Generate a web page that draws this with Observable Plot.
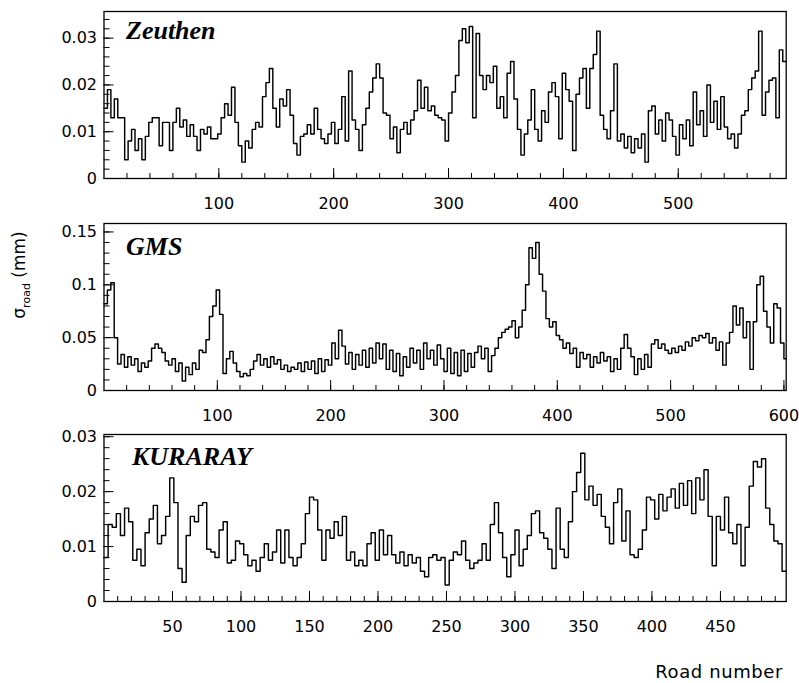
<!DOCTYPE html>
<html>
<head>
<meta charset="utf-8">
<script src="https://cdn.jsdelivr.net/npm/d3@7"></script>
<script src="https://cdn.jsdelivr.net/npm/@observablehq/plot@0.6"></script>
<style>
  html, body { margin: 0; padding: 0; background: #fff; }
  #wrap { position: relative; width: 799px; height: 683px; background: #fff; overflow: hidden; }
  .panel { position: absolute; left: 0; overflow: visible; }
  #ylab { position: absolute; left: 21px; top: 275px; transform: translate(-50%, -50%) rotate(-90deg);
          font-family: "DejaVu Sans", sans-serif; font-size: 17px; white-space: nowrap; color: #000; }
  #ylab sub { font-size: 11px; }
  #xlab { position: absolute; right: 16px; top: 661px; font-family: "DejaVu Sans", sans-serif;
          font-size: 18px; letter-spacing: 0.6px; color: #000; }
</style>
</head>
<body>
<div id="wrap">
  <div id="ylab">σ<sub>road</sub> (mm)</div>
  <div id="xlab">Road number</div>
</div>
<script>
// ---- data (σ_road in mm, one value per bin of 3 roads) ----
const roadsPerBin = 3;

const zeuthen = [
0.015,0.019,0.013,0.017,0.013,0.013,0.004,0.008,0.0105,0.006,
0.0085,0.004,0.009,0.012,0.013,0.013,0.007,0.012,0.012,0.006,
0.012,0.015,0.011,0.0125,0.009,0.0115,0.009,0.006,0.0105,0.0095,
0.011,0.0085,0.0085,0.0095,0.013,0.016,0.0135,0.0195,0.012,0.007,
0.0035,0.008,0.0065,0.0105,0.012,0.011,0.0175,0.0205,0.0235,0.015,
0.011,0.017,0.0155,0.019,0.0135,0.0075,0.005,0.009,0.0095,0.0115,
0.0095,0.015,0.0105,0.0085,0.0075,0.0095,0.012,0.0075,0.0105,0.0175,
0.008,0.023,0.0125,0.0105,0.006,0.0115,0.015,0.0185,0.0215,0.0245,
0.0215,0.014,0.0135,0.0085,0.011,0.0055,0.0105,0.012,0.0095,0.0125,
0.0145,0.021,0.015,0.0195,0.0145,0.0155,0.0135,0.013,0.0125,0.008,
0.014,0.0185,0.022,0.0295,0.032,0.029,0.0325,0.013,0.031,0.022,
0.019,0.022,0.0205,0.024,0.015,0.0175,0.013,0.0225,0.025,0.017,
0.0105,0.005,0.0095,0.0125,0.019,0.0105,0.008,0.0145,0.012,0.0185,
0.0205,0.0175,0.0085,0.0225,0.019,0.0165,0.006,0.018,0.0215,0.0235,
0.015,0.0235,0.0265,0.0315,0.0135,0.0105,0.0085,0.0145,0.0245,0.008,
0.0095,0.0065,0.009,0.0055,0.0085,0.0065,0.0095,0.0035,0.0145,0.0155,
0.0095,0.0125,0.008,0.014,0.0125,0.009,0.005,0.0115,0.0085,0.0125,
0.007,0.0185,0.0115,0.0145,0.009,0.02,0.012,0.0165,0.0105,0.0175,
0.011,0.0085,0.0095,0.0065,0.0095,0.0135,0.0145,0.019,0.0215,0.023,
0.0315,0.0135,0.0185,0.021,0.0215,0.013,0.0275,0.025
];

const gms = [
0.082,0.095,0.102,0.05,0.025,0.034,0.022,0.032,0.024,0.03,
0.018,0.026,0.022,0.028,0.04,0.044,0.04,0.036,0.028,0.024,
0.03,0.018,0.026,0.009,0.022,0.015,0.026,0.02,0.038,0.036,
0.048,0.07,0.08,0.095,0.072,0.016,0.03,0.037,0.026,0.018,
0.013,0.016,0.014,0.02,0.028,0.034,0.024,0.03,0.022,0.032,
0.025,0.029,0.02,0.024,0.018,0.022,0.02,0.026,0.018,0.027,
0.02,0.028,0.016,0.03,0.018,0.029,0.024,0.045,0.03,0.057,
0.042,0.025,0.036,0.02,0.034,0.024,0.038,0.022,0.04,0.026,
0.045,0.03,0.044,0.02,0.038,0.018,0.035,0.014,0.032,0.022,
0.04,0.026,0.038,0.02,0.045,0.03,0.038,0.024,0.043,0.03,
0.018,0.04,0.016,0.036,0.014,0.038,0.018,0.035,0.022,0.036,
0.042,0.03,0.04,0.018,0.033,0.04,0.05,0.055,0.058,0.06,
0.066,0.05,0.06,0.076,0.1,0.135,0.125,0.14,0.11,0.094,
0.068,0.06,0.065,0.052,0.048,0.04,0.045,0.035,0.04,0.022,
0.036,0.03,0.034,0.022,0.032,0.026,0.036,0.028,0.032,0.018,
0.03,0.02,0.04,0.053,0.04,0.032,0.015,0.03,0.02,0.034,
0.022,0.044,0.048,0.04,0.044,0.038,0.035,0.04,0.036,0.042,
0.038,0.046,0.042,0.05,0.047,0.052,0.05,0.054,0.045,0.05,
0.038,0.046,0.024,0.045,0.055,0.08,0.062,0.078,0.05,0.065,
0.02,0.065,0.1,0.108,0.075,0.06,0.045,0.082,0.078,0.045,0.03
];

const kuraray = [
0.008,0.014,0.0135,0.016,0.012,0.017,0.0145,0.0075,0.0095,0.0065,
0.0125,0.015,0.0175,0.0105,0.012,0.0155,0.0225,0.018,0.006,0.0035,
0.012,0.0155,0.0145,0.0175,0.018,0.0095,0.009,0.008,0.013,0.0145,
0.007,0.0075,0.011,0.0105,0.0085,0.0065,0.0075,0.0055,0.008,0.0105,
0.0075,0.009,0.013,0.007,0.013,0.008,0.0065,0.008,0.0105,0.016,
0.019,0.0185,0.013,0.0075,0.013,0.0115,0.0145,0.012,0.0155,0.0075,
0.009,0.0065,0.0075,0.0065,0.0105,0.0125,0.0075,0.013,0.0085,0.012,
0.0085,0.007,0.009,0.0065,0.0085,0.007,0.008,0.0055,0.0045,0.008,
0.0085,0.0075,0.008,0.003,0.0075,0.009,0.0085,0.011,0.0075,0.006,
0.007,0.0075,0.0105,0.0075,0.014,0.018,0.0125,0.008,0.0045,0.0085,
0.013,0.0065,0.0095,0.012,0.016,0.0165,0.0125,0.0115,0.0095,0.006,
0.017,0.0095,0.008,0.0145,0.02,0.0235,0.027,0.0185,0.021,0.0175,
0.0195,0.0155,0.0135,0.0105,0.018,0.0205,0.011,0.0165,0.0085,0.008,
0.0095,0.013,0.019,0.0185,0.015,0.0195,0.0165,0.019,0.0205,0.017,
0.0215,0.0175,0.022,0.016,0.0225,0.0185,0.024,0.0155,0.0065,0.0155,
0.013,0.019,0.0125,0.0105,0.014,0.0065,0.0135,0.021,0.0255,0.0245,
0.026,0.017,0.014,0.011,0.0105,0.0055
];

const panelNames = ["Zeuthen", "GMS", "KURARAY"];
const roadRanges = [[0, 594], [0, 602], [0, 498]];
const sigmaRanges = [[0, 0.0357], [0, 0.158], [0, 0.0304]];

const xTickLabels = [
  [100, 200, 300, 400, 500],
  [100, 200, 300, 400, 500, 600],
  [50, 100, 150, 200, 250, 300, 350, 400, 450]
];
const xMinorStep = [20, 20, 10];
const yTickLabels = [
  [0, 0.01, 0.02, 0.03],
  [0, 0.05, 0.1, 0.15],
  [0, 0.01, 0.02, 0.03]
];
const yMinorStep = [0.002, 0.01, 0.002];

// ---- layout / style ----
const series = [zeuthen, gms, kuraray];
const tops = [0, 212, 423];
const nameOffsets = [[22, 27], [22, 31], [28, 30]];

const wrap = document.getElementById("wrap");

series.forEach((vals, p) => {
  const end = roadRanges[p][1];
  const pts = vals.map((v, i) => ({road: i * roadsPerBin, sigma: v}));
  pts.push({road: end, sigma: vals[vals.length - 1]});
  const xMinor = d3.range(xMinorStep[p], end, xMinorStep[p]);
  const yMinor = d3.range(yMinorStep[p], sigmaRanges[p][1], yMinorStep[p]);

  const chart = Plot.plot({
    width: 799,
    height: 226,
    marginLeft: 103.5,
    marginRight: 13.3,
    marginTop: 11,
    marginBottom: 48,
    x: {domain: roadRanges[p], label: null},
    y: {domain: sigmaRanges[p], label: null},
    style: {fontFamily: "DejaVu Sans, sans-serif", fontSize: "16px", color: "#000", background: "transparent", overflow: "visible"},
    marks: [
      Plot.axisX(xTickLabels[p], {tickSize: 0, tickPadding: 19, tickFormat: d => String(d), label: null}),
      Plot.axisX(xTickLabels[p], {tickSize: -10, fill: "none", label: null}),
      Plot.axisX(xMinor, {tickSize: -5, fill: "none", label: null}),
      Plot.axisY(yTickLabels[p], {tickSize: 0, tickPadding: 7, tickFormat: d => String(d), label: null}),
      Plot.axisY(yTickLabels[p], {tickSize: -10, fill: "none", label: null}),
      Plot.axisY(yMinor, {tickSize: -6, fill: "none", label: null}),
      Plot.line(pts, {x: "road", y: "sigma", curve: "step-after", stroke: "#000", strokeWidth: 1.45}),
      Plot.frame({stroke: "#000", strokeWidth: 1.3}),
      Plot.text([panelNames[p]], {
        text: d => d, frameAnchor: "top-left", textAnchor: "start", lineAnchor: "bottom",
        dx: nameOffsets[p][0], dy: nameOffsets[p][1],
        fontFamily: "Liberation Serif, serif", fontWeight: "bold", fontStyle: "italic", fontSize: 26, fill: "#000"
      })
    ]
  });
  chart.classList.add("panel");
  chart.style.top = tops[p] + "px";
  wrap.appendChild(chart);
});
</script>
</body>
</html>
